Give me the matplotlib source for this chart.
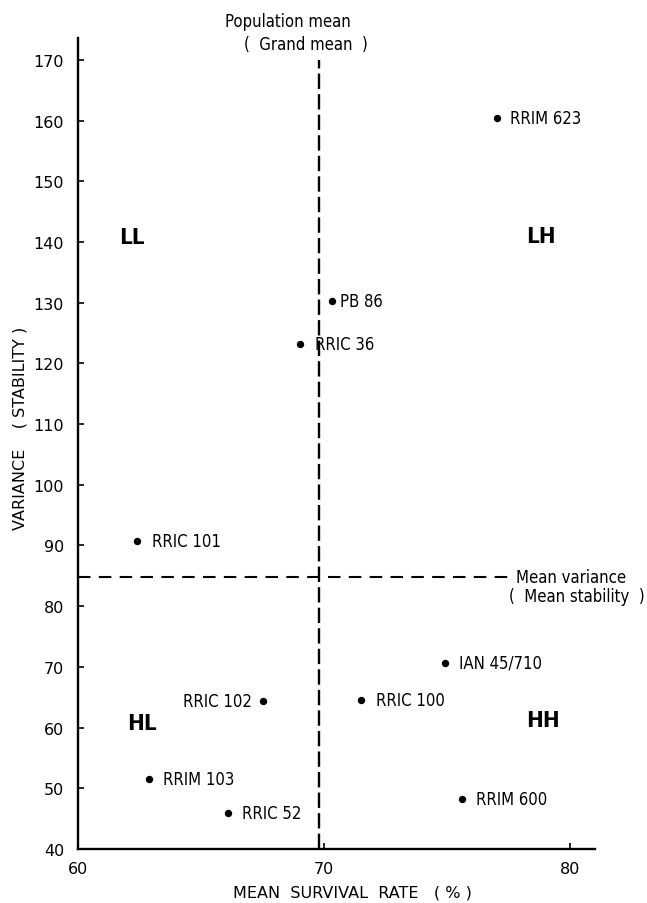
import matplotlib
matplotlib.use("Agg")
import matplotlib.pyplot as plt

# data
names = ["RRIM 623", "PB 86", "RRIC 36", "RRIC 101", "IAN 45/710",
         "RRIC 100", "RRIM 600", "RRIC 102", "RRIM 103", "RRIC 52"]
survival = [77.0, 70.3, 69.0, 62.4, 74.9, 71.5, 75.6, 67.5, 62.9, 66.1]
variance = [160.4, 130.3, 123.2, 90.7, 70.7, 64.6, 48.2, 64.3, 51.5, 45.9]

grand_mean = 69.8
mean_variance = 84.8

quadrants = ["LL", "LH", "HL", "HH"]
quad_x = [62.2, 78.8, 62.6, 78.9]
quad_y = [140.8, 141.0, 60.7, 61.3]

xticks = [60, 70, 80]
yticks = [40, 50, 60, 70, 80, 90, 100, 110, 120, 130, 140, 150, 160, 170]

# posuny popisků (v bodech)
offs = [(10, 0), (6, 0), (11, 0), (11, 0), (10, 0),
        (11, 0), (10, 0), (-8, 0), (10, 0), (10, 0)]

plt.rcParams["font.family"] = ["DejaVu Sans"]
fs = 12

fig = plt.figure(figsize=(6.47, 9.04), dpi=100)
ax = fig.add_axes([78/647, 1-850/904, (595-78)/647, (850-39)/904])

ax.set_xlim(60, 81)
ax.set_ylim(40, 173.6)

# body
ax.plot(survival, variance, "o", color="black", markersize=4.3, zorder=3)
for n, x, y, o in zip(names, survival, variance, offs):
    ax.annotate(n, xy=(x, y), xytext=o, textcoords="offset points",
                ha="left" if o[0] > 0 else "right", va="center",
                fontsize=fs, fontstretch="condensed")

# střední hodnoty
ax.plot([grand_mean, grand_mean], [40, 170], color="black", lw=1.7,
        linestyle=(0, (6.5, 2.2)))
ax.plot([60, 77.6], [mean_variance, mean_variance], color="black", lw=1.5,
        linestyle=(0, (6.0, 4.0)))

for q, x, y in zip(quadrants, quad_x, quad_y):
    ax.text(x, y, q, fontsize=16, fontweight="bold", fontstretch="condensed",
            ha="center", va="center")

ax.text(77.8, mean_variance, "Mean variance", fontsize=fs,
        fontstretch="condensed", va="center", ha="left")
fig.text(645/647, 1-597/904, "(  Mean stability  )", fontsize=fs,
         fontstretch="condensed", va="center", ha="right")
fig.text(288/647, 1-22/904, "Population mean", fontsize=fs,
         fontstretch="condensed", va="center", ha="center")
fig.text(306/647, 1-45/904, "(  Grand mean  )", fontsize=fs,
         fontstretch="condensed", va="center", ha="center")

# osy
for s in ["top", "right"]:
    ax.spines[s].set_visible(False)
for s in ["left", "bottom"]:
    ax.spines[s].set_linewidth(1.7)
ax.set_xticks(xticks)
ax.set_yticks(yticks)
ax.tick_params(direction="in", length=4, width=1.2, labelsize=11.5)
ax.tick_params(axis="y", pad=10)
ax.tick_params(axis="x", pad=9)

fig.text(352/647, 1-893/904, "MEAN  SURVIVAL  RATE   ( % )", fontsize=11.5,
         ha="center", va="center")
fig.text(20/647, 1-428/904, "VARIANCE    ( STABILITY )", fontsize=11.5,
         ha="center", va="center", rotation=90)

fig.savefig("out.png", dpi=100)
